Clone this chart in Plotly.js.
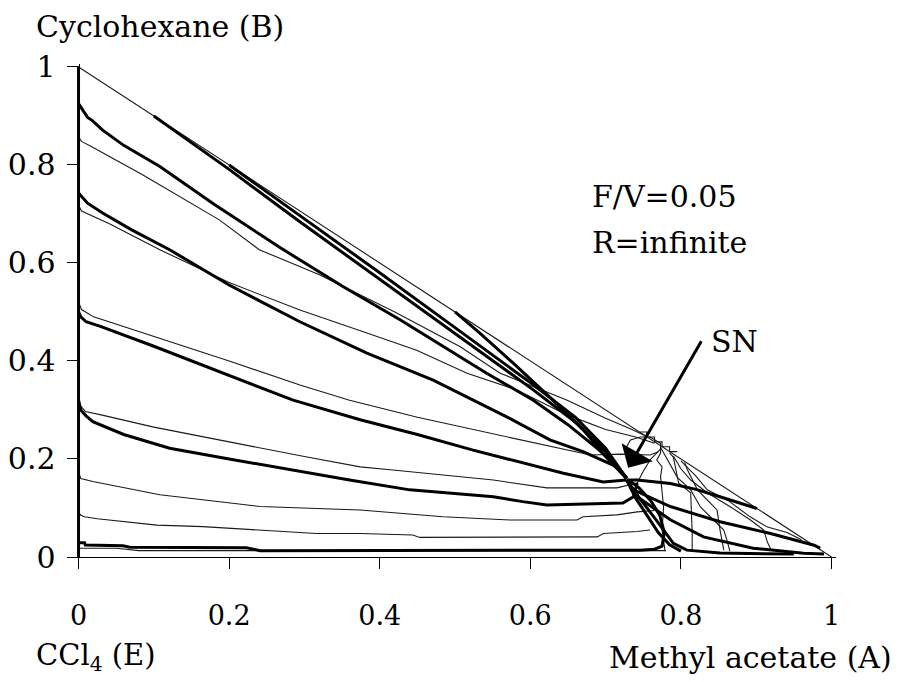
<!DOCTYPE html>
<html>
<head>
<meta charset="utf-8">
<script src="https://cdn.plot.ly/plotly-3.0.1.min.js"></script>
<style>html,body{margin:0;padding:0;background:#fff;}#chart{width:898px;height:682px;}</style>
</head>
<body>
<div id="chart"></div>
<script>
// ---- data (mole fractions: x = Methyl acetate (A), y = Cyclohexane (B)) ----
const xTicks = [0, 0.2, 0.4, 0.6, 0.8, 1];
const xTickLabels = ["0", "0.2", "0.4", "0.6", "0.8", "1"];
const yTicks = [0, 0.2, 0.4, 0.6, 0.8, 1];
const yTickLabels = ["0", "0.2", "0.4", "0.6", "0.8", "1"];

// triangle boundaries
const diagX = [0, 1];
const diagY = [1, 0];
const edgeX = [0, 0];
const edgeY = [0, 1];

// thick profiles ending at the stable node SN
const k1X = [0, 0.003, 0.008, 0.012, 0.018, 0.032, 0.06, 0.108, 0.18, 0.267, 0.35, 0.427, 0.542, 0.604, 0.65, 0.69, 0.715, 0.728];
const k1Y = [0.925, 0.918, 0.909, 0.897, 0.891, 0.871, 0.84, 0.797, 0.72, 0.632, 0.553, 0.484, 0.375, 0.32, 0.27, 0.22, 0.185, 0.16];
const kh1X = [0.1, 0.2, 0.294, 0.39, 0.516, 0.604, 0.66, 0.70, 0.728];
const kh1Y = [0.9, 0.791, 0.684, 0.578, 0.437, 0.341, 0.275, 0.215, 0.16];
const kh2X = [0.2, 0.3, 0.4, 0.5, 0.6, 0.66, 0.70, 0.728];
const kh2Y = [0.8, 0.69, 0.58, 0.468, 0.356, 0.285, 0.222, 0.16];
const kh3X = [0.5, 0.533, 0.577, 0.63, 0.67, 0.70, 0.728];
const kh3Y = [0.5, 0.457, 0.396, 0.32, 0.26, 0.205, 0.16];
const k2X = [0, 0.005, 0.012, 0.032, 0.07, 0.121, 0.2, 0.294, 0.383, 0.471, 0.524, 0.57, 0.626, 0.67, 0.715, 0.728];
const k2Y = [0.743, 0.735, 0.722, 0.702, 0.668, 0.627, 0.555, 0.48, 0.416, 0.361, 0.32, 0.285, 0.239, 0.215, 0.184, 0.162];
const k3X = [0, 0.003, 0.01, 0.03, 0.1, 0.2, 0.285, 0.374, 0.45, 0.524, 0.644, 0.697, 0.728];
const k3Y = [0.5, 0.49, 0.48, 0.47, 0.43, 0.37, 0.32, 0.28, 0.25, 0.218, 0.171, 0.153, 0.157];
const k4X = [0, 0.003, 0.01, 0.019, 0.06, 0.121, 0.2, 0.28, 0.36, 0.44, 0.551, 0.59, 0.622, 0.723, 0.737, 0.742];
const k4Y = [0.32, 0.3, 0.288, 0.276, 0.25, 0.222, 0.2, 0.178, 0.157, 0.137, 0.123, 0.113, 0.106, 0.11, 0.123, 0.151];
const k5X = [0, 0.008, 0.009, 0.059, 0.068, 0.223, 0.241, 0.374, 0.6, 0.746, 0.765, 0.775, 0.778, 0.772, 0.76, 0.745, 0.732];
const k5Y = [0.029, 0.029, 0.0245, 0.023, 0.0198, 0.019, 0.013, 0.013, 0.013, 0.014, 0.016, 0.022, 0.05, 0.085, 0.115, 0.14, 0.156];

// thick profiles leaving SN towards pure A
const r1X = [0.728, 0.742, 0.786, 0.82, 0.852, 0.88, 0.901];
const r1Y = [0.157, 0.157, 0.150, 0.138, 0.123, 0.11, 0.099];
const r2X = [0.728, 0.737, 0.786, 0.852, 0.919, 0.95, 0.977, 0.985];
const r2Y = [0.157, 0.137, 0.103, 0.072, 0.048, 0.036, 0.024, 0.018];
const r3X = [0.728, 0.742, 0.786, 0.830, 0.896, 0.963, 0.99];
const r3Y = [0.157, 0.123, 0.076, 0.041, 0.018, 0.0075, 0.006];
const r4X = [0.728, 0.745, 0.765, 0.777, 0.79, 0.808, 0.852, 0.95];
const r4Y = [0.157, 0.12, 0.08, 0.055, 0.028, 0.014, 0.008, 0.006];
const r5X = [0.728, 0.74, 0.755, 0.77, 0.785, 0.80];
const r5Y = [0.157, 0.12, 0.085, 0.05, 0.025, 0.012];

// thin curves from the B-E edge
const n1X = [0, 0.004, 0.02, 0.085, 0.187, 0.24, 0.32, 0.42, 0.507, 0.56, 0.649, 0.70, 0.735, 0.752];
const n1Y = [0.857, 0.848, 0.835, 0.78, 0.688, 0.627, 0.576, 0.50, 0.429, 0.375, 0.32, 0.283, 0.26, 0.248];
const n2X = [0, 0.004, 0.041, 0.108, 0.2, 0.294, 0.383, 0.449, 0.516, 0.582, 0.649, 0.70, 0.74, 0.765];
const n2Y = [0.718, 0.706, 0.68, 0.627, 0.56, 0.504, 0.457, 0.422, 0.375, 0.341, 0.29, 0.26, 0.245, 0.232];
const n3X = [0, 0.004, 0.02, 0.1, 0.2, 0.294, 0.36, 0.45, 0.524, 0.6, 0.649, 0.68, 0.72, 0.759, 0.77];
const n3Y = [0.52, 0.505, 0.49, 0.45, 0.40, 0.351, 0.32, 0.285, 0.26, 0.235, 0.218, 0.208, 0.21, 0.208, 0.215];
const n4X = [0, 0.003, 0.009, 0.03, 0.1, 0.152, 0.2, 0.3, 0.374, 0.414, 0.551, 0.622, 0.715, 0.742, 0.75, 0.76, 0.773];
const n4Y = [0.318, 0.308, 0.297, 0.29, 0.265, 0.25, 0.235, 0.205, 0.184, 0.178, 0.157, 0.141, 0.141, 0.151, 0.175, 0.2, 0.22];
const n5X = [0, 0.003, 0.019, 0.108, 0.241, 0.374, 0.484, 0.573, 0.662, 0.67, 0.715, 0.742, 0.765];
const n5Y = [0.174, 0.16, 0.154, 0.127, 0.103, 0.096, 0.082, 0.0755, 0.0755, 0.082, 0.086, 0.092, 0.095];
const n6X = [0, 0.003, 0.008, 0.025, 0.104, 0.165, 0.316, 0.374, 0.444, 0.453, 0.689, 0.697, 0.742, 0.759];
const n6Y = [0.092, 0.085, 0.082, 0.078, 0.065, 0.062, 0.048, 0.048, 0.045, 0.04, 0.041, 0.048, 0.052, 0.055];
const n7X = [0, 0.05, 0.08, 0.4, 0.6, 0.78];
const n7Y = [0.018, 0.018, 0.013, 0.013, 0.013, 0.013];

// thin curves on the A side of SN
const f1X = [0.773, 0.782, 0.795, 0.813, 0.826, 0.843, 0.857, 0.862, 0.865];
const f1Y = [0.224, 0.198, 0.163, 0.137, 0.102, 0.076, 0.055, 0.03, 0.012];
const f2X = [0.79, 0.80, 0.813, 0.835, 0.866, 0.892, 0.91, 0.915, 0.92];
const f2Y = [0.206, 0.18, 0.157, 0.131, 0.102, 0.076, 0.055, 0.03, 0.014];
const f3X = [0.80, 0.82, 0.835, 0.862, 0.892, 0.915, 0.941, 0.96];
const f3Y = [0.196, 0.165, 0.137, 0.116, 0.082, 0.061, 0.05, 0.035];
const v1X = [0.728, 0.733, 0.746, 0.759, 0.773, 0.773, 0.768, 0.775, 0.773, 0.777, 0.775, 0.779, 0.779];
const v1Y = [0.225, 0.239, 0.245, 0.245, 0.232, 0.212, 0.198, 0.184, 0.164, 0.102, 0.055, 0.02, 0.012];
const v2X = [0.785, 0.79, 0.797, 0.813, 0.815, 0.815];
const v2Y = [0.212, 0.204, 0.151, 0.131, 0.05, 0.012];
const v3X = [0.805, 0.808, 0.822, 0.848, 0.852, 0.857];
const v3Y = [0.193, 0.18, 0.137, 0.096, 0.055, 0.014];
const stepX = [0.745, 0.755, 0.755, 0.765, 0.765, 0.775, 0.775, 0.785, 0.785, 0.795];
const stepY = [0.255, 0.255, 0.245, 0.245, 0.235, 0.235, 0.225, 0.225, 0.215, 0.215];

// ---- traces ----
const thinSet = [[diagX, diagY], [n1X, n1Y], [n2X, n2Y], [n3X, n3Y], [n4X, n4Y], [n5X, n5Y], [n6X, n6Y], [n7X, n7Y],
  [f1X, f1Y], [f2X, f2Y], [f3X, f3Y], [v1X, v1Y], [v2X, v2Y], [v3X, v3Y], [stepX, stepY]];
const thickSet = [[edgeX, edgeY], [k1X, k1Y], [kh1X, kh1Y], [kh2X, kh2Y], [kh3X, kh3Y], [k2X, k2Y], [k3X, k3Y], [k4X, k4Y], [k5X, k5Y],
  [r1X, r1Y], [r2X, r2Y], [r3X, r3Y], [r4X, r4Y], [r5X, r5Y]];

const traces = [];
thinSet.forEach(function (c) {
  traces.push({x: c[0], y: c[1], type: 'scatter', mode: 'lines', line: {color: '#1a1a1a', width: 1.1}, hoverinfo: 'skip', showlegend: false});
});
thickSet.forEach(function (c) {
  traces.push({x: c[0], y: c[1], type: 'scatter', mode: 'lines', line: {color: '#000', width: 3}, hoverinfo: 'skip', showlegend: false});
});

// ---- layout geometry ----
const W = 898, H = 682;
const x0px = 79, x1px = 831, y0px = 557, y1px = 67;
const xr = [-0.01, 1.006], yr = [0, 1.006];
const ppx = (x1px - x0px), ppy = (y0px - y1px);
const mL = x0px + xr[0] * ppx;
const plotW = (xr[1] - xr[0]) * ppx;
const mR = W - mL - plotW;
const plotH = (yr[1] - yr[0]) * ppy;
const mB = H - y0px;
const mT = H - mB - plotH;
const px2paperX = function (p) { return (p - mL) / plotW; };
const px2paperY = function (p) { return (y0px - p) / plotH; };

const FONT = 'DejaVu Serif';

const layout = {
  width: W, height: H,
  margin: {l: mL, r: mR, t: mT, b: mB, pad: 0},
  paper_bgcolor: '#fff', plot_bgcolor: '#fff',
  font: {family: FONT, color: '#000', size: 28},
  showlegend: false,
  xaxis: {
    range: xr, tickvals: xTicks, ticktext: xTickLabels,
    ticks: 'outside', ticklen: 11, tickwidth: 1, tickcolor: '#000',
    showline: true, linecolor: '#000', linewidth: 1,
    showgrid: false, zeroline: false, automargin: false,
    tickfont: {family: FONT, size: 27, color: '#000'},
    ticklabelstandoff: 24
  },
  yaxis: {
    range: yr, tickvals: yTicks, ticktext: yTickLabels,
    anchor: 'free', position: (0 - xr[0]) / (xr[1] - xr[0]),
    ticks: 'outside', ticklen: 12, tickwidth: 1, tickcolor: '#000',
    showline: true, linecolor: '#000', linewidth: 1,
    showgrid: false, zeroline: false, automargin: false,
    tickfont: {family: FONT, size: 30, color: '#000'},
    ticklabelstandoff: 5
  },
  annotations: [
    {xref: 'paper', yref: 'paper', x: px2paperX(35), y: px2paperY(27), xanchor: 'left', yanchor: 'middle',
      text: 'Cyclohexane (B)', showarrow: false, font: {family: FONT, size: 30, color: '#000'}},
    {xref: 'paper', yref: 'paper', x: px2paperX(35), y: px2paperY(657), xanchor: 'left', yanchor: 'middle',
      text: 'CCl<sub>4</sub> (E)', showarrow: false, font: {family: FONT, size: 29, color: '#000'}},
    {xref: 'paper', yref: 'paper', x: px2paperX(893), y: px2paperY(657), xanchor: 'right', yanchor: 'middle',
      text: 'Methyl acetate (A)', showarrow: false, font: {family: FONT, size: 30, color: '#000'}},
    {xref: 'paper', yref: 'paper', x: px2paperX(590), y: px2paperY(197), xanchor: 'left', yanchor: 'middle',
      text: 'F/V=0.05', showarrow: false, font: {family: FONT, size: 30, color: '#000'}},
    {xref: 'paper', yref: 'paper', x: px2paperX(590), y: px2paperY(243), xanchor: 'left', yanchor: 'middle',
      text: 'R=infinite', showarrow: false, font: {family: FONT, size: 30, color: '#000'}},
    {xref: 'paper', yref: 'paper', x: px2paperX(709), y: px2paperY(342), xanchor: 'left', yanchor: 'middle',
      text: 'SN', showarrow: false, font: {family: FONT, size: 30, color: '#000'}},
    {xref: 'x', yref: 'y', x: 0.730, y: 0.182, ax: 74, ay: -128, text: '', showarrow: true,
      arrowhead: 1, arrowsize: 2, arrowwidth: 3, arrowcolor: '#000', standoff: 0, startstandoff: 0}
  ]
};

Plotly.newPlot('chart', traces, layout, {staticPlot: true, displayModeBar: false});
</script>
</body>
</html>
